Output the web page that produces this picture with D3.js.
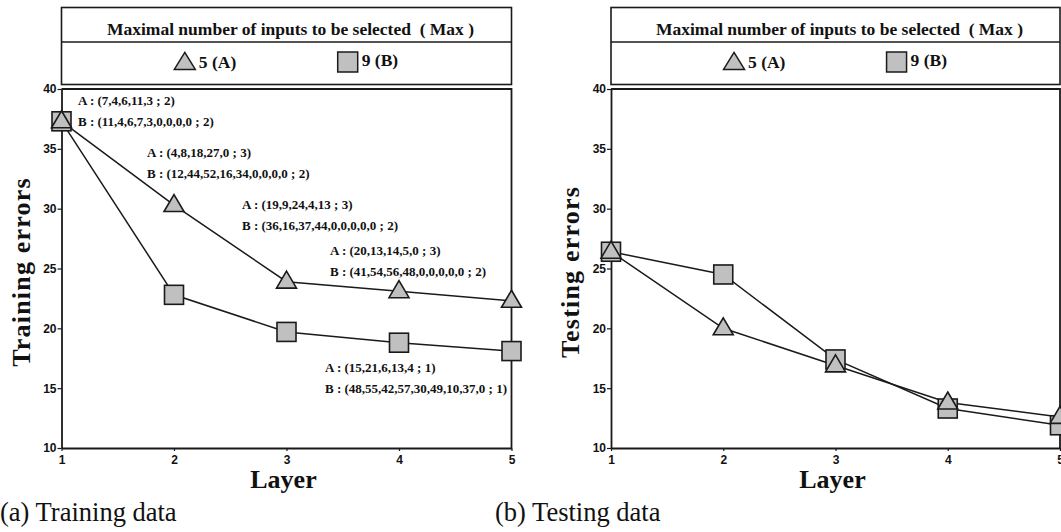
<!DOCTYPE html>
<html>
<head>
<meta charset="utf-8">
<script src="https://cdn.jsdelivr.net/npm/d3@7"></script>
<style>
  html, body { margin: 0; padding: 0; background: #fff; }
  svg { display: block; }
</style>
</head>
<body>
<svg id="chart" width="1061" height="532"></svg>
<script>
// ---------- data ----------
const layers = [1, 2, 3, 4, 5];
const yTicks = [10, 15, 20, 25, 30, 35, 40];
const trainA = [37.3, 30.3, 23.9, 23.1, 22.3];   // Max = 5 (A)
const trainB = [37.3, 22.8, 19.7, 18.8, 18.1];   // Max = 9 (B)
const testA  = [26.4, 20.0, 16.9, 13.8, 12.6];
const testB  = [26.4, 24.5, 17.4, 13.3, 11.9];
const legendTitle = "Maximal number of inputs to be selected\u00A0\u00A0(\u00A0Max\u00A0)";
const legendLabels = ["5 (A)", "9 (B)"];
const trainNotes = [
  ["A : (7,4,6,11,3 ; 2)", "B : (11,4,6,7,3,0,0,0,0 ; 2)"],
  ["A : (4,8,18,27,0 ; 3)", "B : (12,44,52,16,34,0,0,0,0 ; 2)"],
  ["A : (19,9,24,4,13 ; 3)", "B : (36,16,37,44,0,0,0,0,0 ; 2)"],
  ["A : (20,13,14,5,0 ; 3)", "B : (41,54,56,48,0,0,0,0,0 ; 2)"],
  ["A : (15,21,6,13,4 ; 1)", "B : (48,55,42,57,30,49,10,37,0 ; 1)"]
];

// ---------- layout (positions, not data) ----------
const notePos = [[78, 105], [147, 157], [242, 209], [330, 255], [325, 372]];
const serif = "'Liberation Serif','Times New Roman',serif";
const sans = "'Liberation Sans',Arial,sans-serif";
const markFill = "#c0c0c0", ink = "#1a1a1a";

const svg = d3.select("#chart");

function triPath(cx, cy, w, h) {
  return `M${cx},${cy - h * 0.62}L${cx + w / 2},${cy + h * 0.38}L${cx - w / 2},${cy + h * 0.38}Z`;
}

function panel(opts) {
  const { left, right, yTitle, A, B, notes, caption, capX } = opts;
  const top = 89, bottom = 448;
  const x = d3.scaleLinear().domain([1, 5]).range([left, right]);
  const y = d3.scaleLinear().domain([10, 40]).range([bottom, top]);
  const g = svg.append("g");

  // legend box
  const lg = g.append("g");
  lg.append("rect").attr("x", left).attr("y", 7.5).attr("width", right - left).attr("height", 77)
    .attr("fill", "none").attr("stroke", ink).attr("stroke-width", 1.6);
  lg.append("line").attr("x1", left).attr("x2", right).attr("y1", 42).attr("y2", 42)
    .attr("stroke", ink).attr("stroke-width", 1.3);
  lg.append("text").attr("x", (left + right) / 2 + 4).attr("y", 35)
    .attr("text-anchor", "middle").attr("font-family", serif).attr("font-weight", "bold")
    .attr("font-size", 17.5).attr("fill", "#111").text(legendTitle);
  const w = right - left;
  const triX = left + w * 0.274, sqX = left + w * 0.636;
  lg.append("path").attr("d", triPath(triX, 63, 21, 17)).attr("fill", markFill)
    .attr("stroke", ink).attr("stroke-width", 1.5);
  lg.append("text").attr("x", triX + 14).attr("y", 68).attr("font-family", serif)
    .attr("font-weight", "bold").attr("font-size", 17.5).attr("fill", "#111").text(legendLabels[0]);
  lg.append("rect").attr("x", sqX - 10).attr("y", 52).attr("width", 20).attr("height", 20)
    .attr("fill", markFill).attr("stroke", ink).attr("stroke-width", 1.5);
  lg.append("text").attr("x", sqX + 14).attr("y", 66).attr("font-family", serif)
    .attr("font-weight", "bold").attr("font-size", 17.5).attr("fill", "#111").text(legendLabels[1]);

  // frame top/right
  g.append("path").attr("d", `M${left},${top}H${right}V${bottom}`)
    .attr("fill", "none").attr("stroke", ink).attr("stroke-width", 1.8);

  // axes
  const ya = g.append("g").attr("transform", `translate(${left},0)`)
    .call(d3.axisLeft(y).tickValues(yTicks).tickSize(4).tickSizeOuter(0).tickPadding(1));
  const xa = g.append("g").attr("transform", `translate(0,${bottom})`)
    .call(d3.axisBottom(x).tickValues(layers).tickSize(3).tickSizeOuter(0).tickPadding(4).tickFormat(d3.format("d")));
  [ya, xa].forEach(a => {
    a.select(".domain").attr("stroke", ink).attr("stroke-width", 1.8);
    a.selectAll(".tick line").attr("stroke", ink).attr("stroke-width", 1.2);
    a.selectAll(".tick text").attr("font-family", sans).attr("font-weight", "bold")
      .attr("font-size", 12).attr("fill", "#111");
  });

  // axis titles
  g.append("text").attr("transform", `translate(${left - 32},272) rotate(-90)`)
    .attr("text-anchor", "middle").attr("font-family", serif).attr("font-weight", "bold")
    .attr("font-size", 26).attr("fill", "#111").attr("letter-spacing", 1.2).text(yTitle);
  g.append("text").attr("x", (left + right) / 2 - 3).attr("y", 488)
    .attr("text-anchor", "middle").attr("font-family", serif).attr("font-weight", "bold")
    .attr("font-size", 26).attr("fill", "#111").text("Layer");

  // caption
  svg.append("text").attr("x", capX).attr("y", 521).attr("font-family", serif)
    .attr("font-size", 26.5).attr("fill", "#111").text(caption);

  // lines
  const line = d3.line().x((d, i) => x(layers[i])).y(d => y(d));
  [B, A].forEach(s => g.append("path").attr("d", line(s)).attr("fill", "none")
    .attr("stroke", ink).attr("stroke-width", 1.5));

  // markers: squares (B) then triangles (A)
  g.selectAll(".sq").data(B).enter().append("rect")
    .attr("x", (d, i) => x(layers[i]) - 9.5).attr("y", d => y(d) - 9.5)
    .attr("width", 19).attr("height", 19)
    .attr("fill", markFill).attr("stroke", ink).attr("stroke-width", 1.6);
  g.selectAll(".tri").data(A).enter().append("path")
    .attr("d", (d, i) => triPath(x(layers[i]), y(d), 20, 17))
    .attr("fill", markFill).attr("stroke", ink).attr("stroke-width", 1.6);

  // annotations
  if (notes) {
    notes.forEach((pair, k) => {
      pair.forEach((t, j) => {
        g.append("text").attr("x", notePos[k][0]).attr("y", notePos[k][1] + j * 21)
          .attr("font-family", serif).attr("font-weight", "bold").attr("font-size", 13)
          .attr("fill", "#111").text(t);
      });
    });
  }
}

panel({ left: 61.5, right: 511.5, yTitle: "Training errors", A: trainA, B: trainB,
        notes: trainNotes, caption: "(a) Training data", capX: 0 });
panel({ left: 611, right: 1060, yTitle: "Testing errors", A: testA, B: testB,
        notes: null, caption: "(b) Testing data", capX: 495 });
</script>
</body>
</html>
